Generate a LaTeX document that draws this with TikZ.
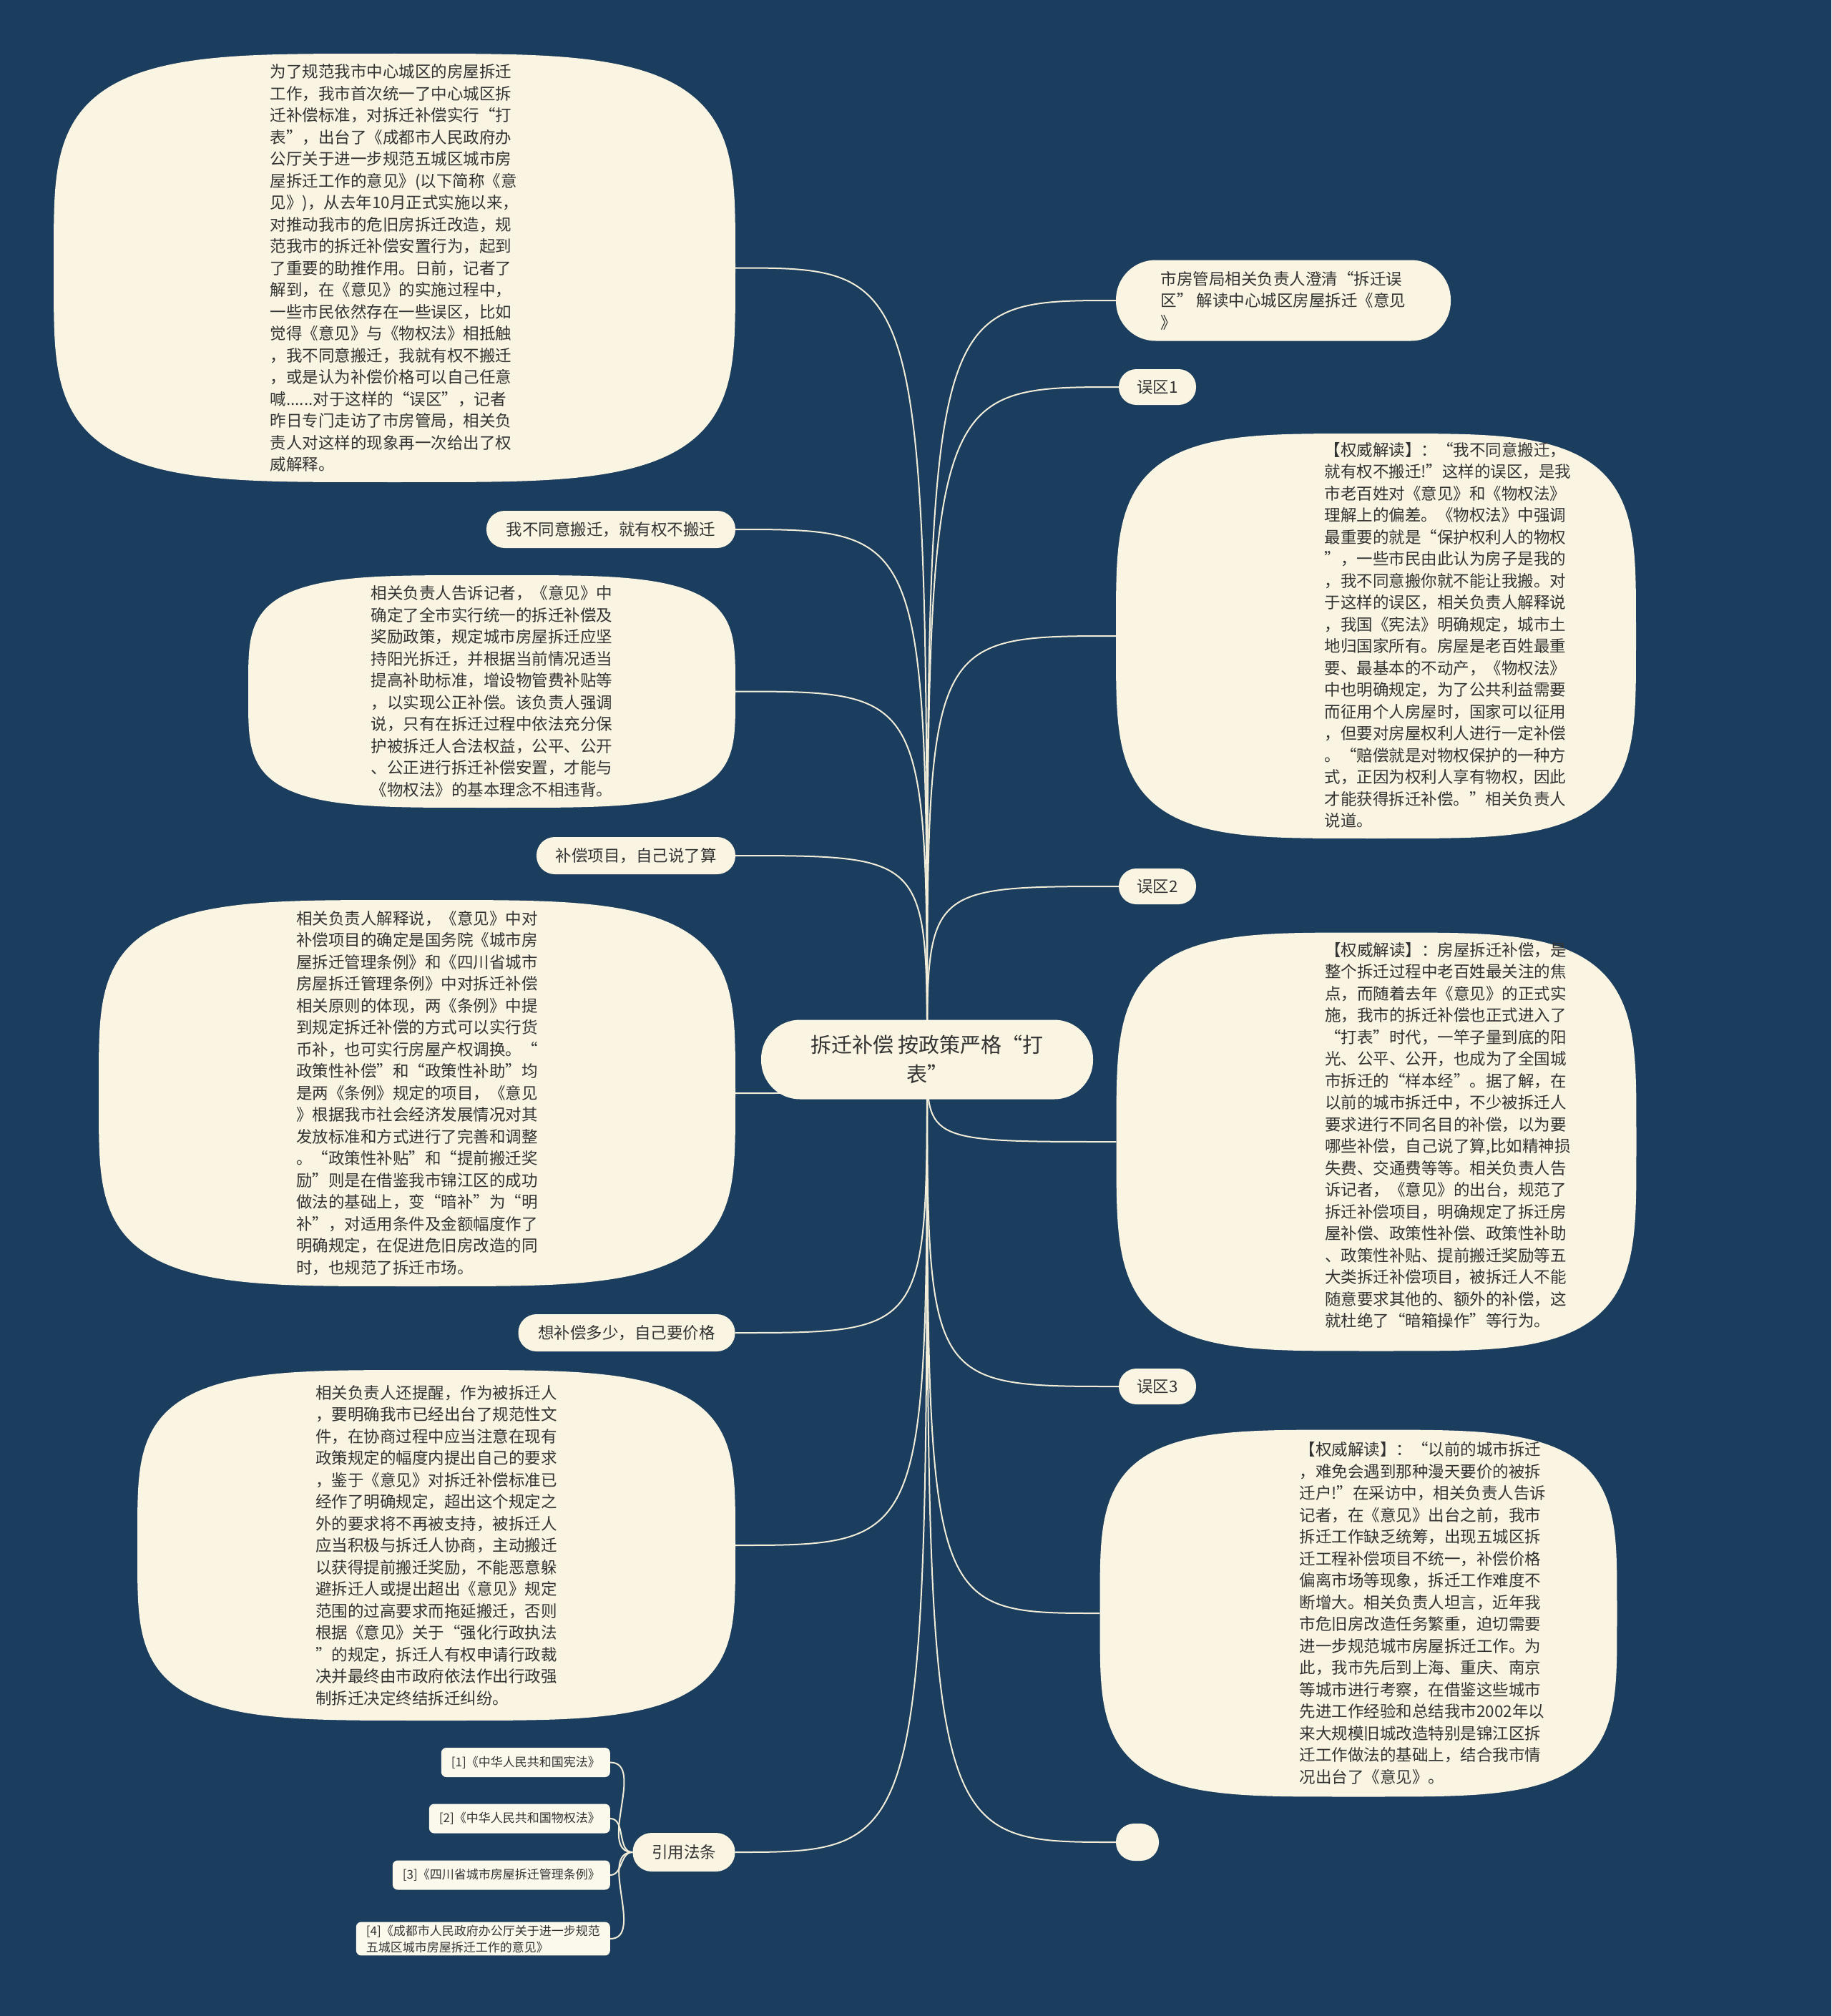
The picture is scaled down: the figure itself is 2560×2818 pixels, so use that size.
\documentclass[tikz,border=0pt]{standalone}
\usepackage{fontspec}
\newfontfamily\zhfont{Noto Sans CJK SC}
\definecolor{navy}{HTML}{1B3D5E}
\definecolor{cream}{HTML}{FAF5E2}
\definecolor{paper}{HTML}{FBF8EC}
\definecolor{ink}{HTML}{333333}
\definecolor{wire}{HTML}{F2EDD8}
\pgfdeclarelayer{bg}
\pgfdeclarelayer{wires}
\pgfdeclarelayer{shapes}
\pgfsetlayers{bg,wires,shapes,main}
% squircle behind a bubble node: name, half width, half height
\newcommand\blob[3]{%
  \begin{pgfonlayer}{shapes}
    \fill[cream,shift={(#1.center)}] plot[domain=0:360,samples=241,variable=\t]
      ({#2*sign(cos(\t))*sqrt(abs(cos(\t)))},{#3*sign(sin(\t))*sqrt(abs(sin(\t)))}) -- cycle;
  \end{pgfonlayer}}

\begin{document}
\begin{tikzpicture}[x=1pt,y=-1pt,
  txt/.style={font=\zhfont\fontsize{22.5}{30.5}\selectfont,text=ink,align=left,inner sep=0pt},
  bub/.style 2 args={txt,minimum width=#1pt,minimum height=#2pt},
  pill/.style 2 args={txt,fill=cream,minimum width=#1pt,minimum height=#2pt,rounded corners=0.49*#2pt},
  ref/.style={fill=paper,rounded corners=7pt,minimum height=41pt,inner xsep=14pt,inner ysep=4pt,
    anchor=east,align=left,font=\zhfont\fontsize{17}{23}\selectfont,text=ink},
  link/.style={draw=wire,line width=2pt}]
  \useasboundingbox (0,0) rectangle (2560,2818);
  \begin{pgfonlayer}{bg}
    \fill[navy] (0,0) rectangle (2560,2818);
  \end{pgfonlayer}
  % ---------- root ----------
  \node[pill={464}{111},font=\zhfont\fontsize{29}{41}\selectfont,align=center] (RT) at (1296,1481)
    {拆迁补偿 按政策严格“打\\表”};
  % ---------- right ----------
  \node[pill={468}{113}] (R0) at (1794,420)
    {市房管局相关负责人澄清“拆迁误\\区” 解读中心城区房屋拆迁《意见\\》};
  \node[pill={108}{50}] (W1) at (1618,541) {误区1};
  \node[bub={727}{566}] (E1) at (1923.5,889) {};
  \blob{E1}{363.5}{283}
  \node[txt] (E1t) at (2024,888)
    {【权威解读】：“我不同意搬迁，\\
     就有权不搬迁!”这样的误区，是我\\
     市老百姓对《意见》和《物权法》\\
     理解上的偏差。《物权法》中强调\\
     最重要的就是“保护权利人的物权\\
     ”，一些市民由此认为房子是我的\\
     ，我不同意搬你就不能让我搬。对\\
     于这样的误区，相关负责人解释说\\
     ，我国《宪法》明确规定，城市土\\
     地归国家所有。房屋是老百姓最重\\
     要、最基本的不动产，《物权法》\\
     中也明确规定，为了公共利益需要\\
     而征用个人房屋时，国家可以征用\\
     ，但要对房屋权利人进行一定补偿\\
     。“赔偿就是对物权保护的一种方\\
     式，正因为权利人享有物权，因此\\
     才能获得拆迁补偿。”相关负责人\\
     说道。};
  \node[pill={108}{50}] (W2) at (1618,1239) {误区2};
  \node[bub={727}{585}] (E2) at (1924,1596) {};
  \blob{E2}{363.5}{292.5}
  \node[txt] (E2t) at (2024,1587)
    {【权威解读】：房屋拆迁补偿，是\\
     整个拆迁过程中老百姓最关注的焦\\
     点，而随着去年《意见》的正式实\\
     施，我市的拆迁补偿也正式进入了\\
     “打表”时代，一竿子量到底的阳\\
     光、公平、公开，也成为了全国城\\
     市拆迁的“样本经”。据了解，在\\
     以前的城市拆迁中，不少被拆迁人\\
     要求进行不同名目的补偿，以为要\\
     哪些补偿，自己说了算,比如精神损\\
     失费、交通费等等。相关负责人告\\
     诉记者，《意见》的出台，规范了\\
     拆迁补偿项目，明确规定了拆迁房\\
     屋补偿、政策性补偿、政策性补助\\
     、政策性补贴、提前搬迁奖励等五\\
     大类拆迁补偿项目，被拆迁人不能\\
     随意要求其他的、额外的补偿，这\\
     就杜绝了“暗箱操作”等行为。};
  \node[pill={108}{50}] (W3) at (1618,1938) {误区3};
  \node[bub={723}{513}] (E3) at (1899,2255) {};
  \blob{E3}{361.5}{256.5}
  \node[txt] (E3t) at (1989,2255)
    {【权威解读】：“以前的城市拆迁\\
     ，难免会遇到那种漫天要价的被拆\\
     迁户!”在采访中，相关负责人告诉\\
     记者，在《意见》出台之前，我市\\
     拆迁工作缺乏统筹，出现五城区拆\\
     迁工程补偿项目不统一，补偿价格\\
     偏离市场等现象，拆迁工作难度不\\
     断增大。相关负责人坦言，近年我\\
     市危旧房改造任务繁重，迫切需要\\
     进一步规范城市房屋拆迁工作。为\\
     此，我市先后到上海、重庆、南京\\
     等城市进行考察，在借鉴这些城市\\
     先进工作经验和总结我市2002年以\\
     来大规模旧城改造特别是锦江区拆\\
     迁工作做法的基础上，结合我市情\\
     况出台了《意见》。};
  \node[pill={60}{52}] (NL) at (1590,2575) {};
  % ---------- left ----------
  \node[bub={953}{599}] (L1) at (551.5,374.5)
    {为了规范我市中心城区的房屋拆迁\\
     工作，我市首次统一了中心城区拆\\
     迁补偿标准，对拆迁补偿实行“打\\
     表”，出台了《成都市人民政府办\\
     公厅关于进一步规范五城区城市房\\
     屋拆迁工作的意见》(以下简称《意\\
     见》)，从去年10月正式实施以来，\\
     对推动我市的危旧房拆迁改造，规\\
     范我市的拆迁补偿安置行为，起到\\
     了重要的助推作用。日前，记者了\\
     解到，在《意见》的实施过程中，\\
     一些市民依然存在一些误区，比如\\
     觉得《意见》与《物权法》相抵触\\
     ，我不同意搬迁，我就有权不搬迁\\
     ，或是认为补偿价格可以自己任意\\
     喊......对于这样的“误区”，记者\\
     昨日专门走访了市房管局，相关负\\
     责人对这样的现象再一次给出了权\\
     威解释。};
  \blob{L1}{476.5}{299.5}
  \node[pill={348}{52}] (P1) at (854,740) {我不同意搬迁，就有权不搬迁};
  \node[bub={681}{325}] (L2) at (687.5,966.5)
    {相关负责人告诉记者，《意见》中\\
     确定了全市实行统一的拆迁补偿及\\
     奖励政策，规定城市房屋拆迁应坚\\
     持阳光拆迁，并根据当前情况适当\\
     提高补助标准，增设物管费补贴等\\
     ，以实现公正补偿。该负责人强调\\
     说，只有在拆迁过程中依法充分保\\
     护被拆迁人合法权益，公平、公开\\
     、公正进行拆迁补偿安置，才能与\\
     《物权法》的基本理念不相违背。};
  \blob{L2}{340.5}{162.5}
  \node[pill={278}{52}] (P2) at (889,1196) {补偿项目，自己说了算};
  \node[bub={890}{540}] (L3) at (583,1528)
    {相关负责人解释说，《意见》中对\\
     补偿项目的确定是国务院《城市房\\
     屋拆迁管理条例》和《四川省城市\\
     房屋拆迁管理条例》中对拆迁补偿\\
     相关原则的体现，两《条例》中提\\
     到规定拆迁补偿的方式可以实行货\\
     币补，也可实行房屋产权调换。“\\
     政策性补偿”和“政策性补助”均\\
     是两《条例》规定的项目，《意见\\
     》根据我市社会经济发展情况对其\\
     发放标准和方式进行了完善和调整\\
     。“政策性补贴”和“提前搬迁奖\\
     励”则是在借鉴我市锦江区的成功\\
     做法的基础上，变“暗补”为“明\\
     补”，对适用条件及金额幅度作了\\
     明确规定，在促进危旧房改造的同\\
     时，也规范了拆迁市场。};
  \blob{L3}{445}{270}
  \node[pill={303}{52}] (P3) at (876,1863) {想补偿多少，自己要价格};
  \node[bub={836}{490}] (L4) at (610,2160)
    {相关负责人还提醒，作为被拆迁人\\
     ，要明确我市已经出台了规范性文\\
     件，在协商过程中应当注意在现有\\
     政策规定的幅度内提出自己的要求\\
     ，鉴于《意见》对拆迁补偿标准已\\
     经作了明确规定，超出这个规定之\\
     外的要求将不再被支持，被拆迁人\\
     应当积极与拆迁人协商，主动搬迁\\
     以获得提前搬迁奖励，不能恶意躲\\
     避拆迁人或提出超出《意见》规定\\
     范围的过高要求而拖延搬迁，否则\\
     根据《意见》关于“强化行政执法\\
     ”的规定，拆迁人有权申请行政裁\\
     决并最终由市政府依法作出行政强\\
     制拆迁决定终结拆迁纠纷。};
  \blob{L4}{418}{245}
  \node[pill={143}{54}] (CT) at (956,2589) {引用法条};
  % ---------- citations ----------
  \node[ref] (C1) at (853,2463.5) {[1]《中华人民共和国宪法》};
  \node[ref] (C2) at (853,2542) {[2]《中华人民共和国物权法》};
  \node[ref] (C3) at (853,2621) {[3]《四川省城市房屋拆迁管理条例》};
  \node[ref] (C4) at (853,2710) {[4]《成都市人民政府办公厅关于进一步规范\\五城区城市房屋拆迁工作的意见》};
  % ---------- links ----------
  \begin{pgfonlayer}{wires}
    \draw[link] (RT.center) .. controls (RT.center |- R0.west) .. (R0.west);
    \draw[link] (RT.center) .. controls (RT.center |- W1.west) .. (W1.west);
    \draw[link] (RT.center) .. controls (RT.center |- E1.west) .. (E1.west);
    \draw[link] (RT.center) .. controls (RT.center |- W2.west) .. (W2.west);
    \draw[link] (RT.center) .. controls (RT.center |- E2.west) .. (E2.west);
    \draw[link] (RT.center) .. controls (RT.center |- W3.west) .. (W3.west);
    \draw[link] (RT.center) .. controls (RT.center |- E3.west) .. (E3.west);
    \draw[link] (RT.center) .. controls (RT.center |- NL.west) .. (NL.west);
    \draw[link] (RT.center) .. controls (RT.center |- L1.east) .. (L1.east);
    \draw[link] (RT.center) .. controls (RT.center |- P1.east) .. (P1.east);
    \draw[link] (RT.center) .. controls (RT.center |- L2.east) .. (L2.east);
    \draw[link] (RT.center) .. controls (RT.center |- P2.east) .. (P2.east);
    \draw[link] (RT.center) .. controls (RT.center |- L3.east) .. (L3.east);
    \draw[link] (RT.center) .. controls (RT.center |- P3.east) .. (P3.east);
    \draw[link] (RT.center) .. controls (RT.center |- L4.east) .. (L4.east);
    \draw[link] (RT.center) .. controls (RT.center |- CT.east) .. (CT.east);
    % cite fan
    \draw[link] (CT.west) to[out=180,in=0] (C1.east);
    \draw[link] (CT.west) to[out=180,in=0] (C2.east);
    \draw[link] (CT.west) to[out=180,in=0] (C3.east);
    \draw[link] (CT.west) to[out=180,in=0] (C4.east);
  \end{pgfonlayer}
\end{tikzpicture}
\end{document}
